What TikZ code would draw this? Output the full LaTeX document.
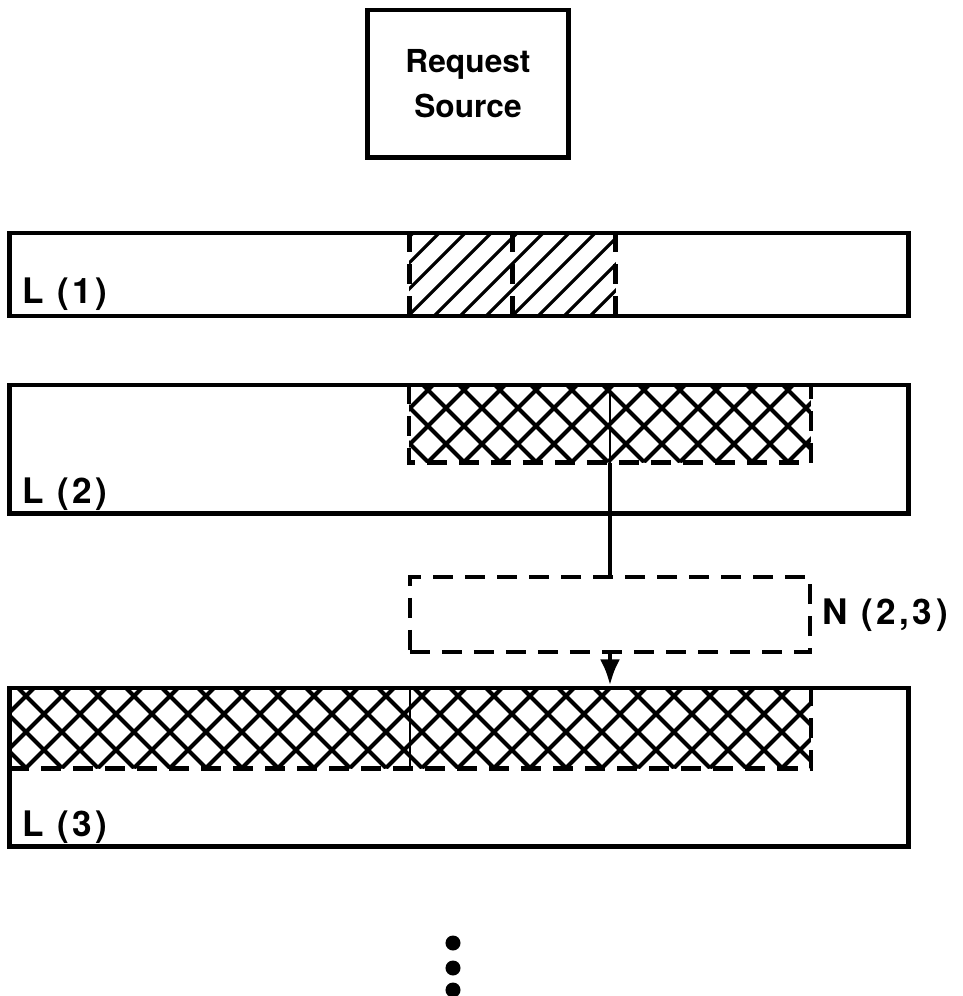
\documentclass[tikz,border=0pt]{standalone}
\usepackage{fontspec}
\setsansfont{TeX Gyre Heros}
\usetikzlibrary{arrows.meta}

\tikzset{
  box/.style={draw, line width=1.4pt, inner sep=0pt},
  level/.style={box, minimum width=8.98cm},
  zone/.style={inner sep=0pt, minimum width=#1},
  tag/.style={inner sep=0pt, font=\sffamily\bfseries\fontsize{10}{12}\selectfont\addfontfeature{LetterSpace=10}},
  hatch/.style={line width=1.2pt},
  gap/.style={line width=1.3pt, dash pattern=on 0.2cm off 0.12cm},
}

\begin{document}
\begin{tikzpicture}[x=0.01cm, y=-0.01cm]
        \useasboundingbox (0,0) rectangle (963,996);

        \node[box, minimum width=2cm, minimum height=1.47cm, align=center,
              font=\sffamily\bfseries\fontsize{9}{13}\selectfont] (src) at (468,83.5) {Request\\Source};

        % levels
        \node[level, minimum height=0.83cm] (L1) at (459,274.5) {};
        \node[level, minimum height=1.28cm] (L2) at (459,449) {};
        \node[level, minimum height=1.58cm] (L3) at (459,767) {};
        \node[box, gap, minimum width=4cm, minimum height=0.75cm] (N) at (610,614.5) {};

        % marked parts
        \node[zone=2.05cm, minimum height=0.83cm] (h1) at (512.5,274.5) {};
        \node[zone=4cm, minimum height=0.77cm] (h2) at (610,423.5) {};
        \node[zone=8cm, minimum height=0.80cm] (h3) at (410,728) {};

        \begin{scope}
            \clip (h1.south west) rectangle (h1.north east);
            \foreach \x in {330,356,...,640} {
                \draw[hatch, line width=0.9pt] (\x,316) -- ++(83,-83);
            }
        \end{scope}
        \begin{scope}
            \clip (h2.south west) rectangle (h2.north east);
            \foreach \x in {320,356,...,900} {
                \draw[hatch] (\x,462) -- ++(77,-77);
                \draw[hatch] (\x,462) -- ++(-77,-77);
            }
        \end{scope}
        \begin{scope}
            \clip (h3.south west) rectangle (h3.north east);
            \foreach \x in {-82,-46,...,900} {
                \draw[hatch] (\x,768) -- ++(80,-80);
                \draw[hatch] (\x,768) -- ++(-80,-80);
            }
        \end{scope}

        \draw[gap] (h1.north west) -- (h1.south west);
        \draw[gap] (h1.north) -- (h1.south);
        \draw[gap] (h1.north east) -- (h1.south east);
        \draw[gap] (h2.north west) -- (h2.south west) -- (h2.south east) -- (h2.north east);
        \draw[line width=0.8pt] (h2.north) -- (h2.south);
        \draw[gap] (h3.south west) -- (h3.south east) -- (h3.north east);
        \draw[line width=0.8pt] (h3.north) -- (h3.south);

        % transfer
        \draw[line width=1.3pt] (h2.south) -- (N.north);
        \draw[line width=1.3pt, -{Latex[length=0.26cm, width=0.2cm]}] (N.south) -- (N.south |- L3.north);

        \node[tag, anchor=base west] (t1) at (22,303) {L (1)};
        \node[tag, anchor=base west] (t2) at (22,503) {L (2)};
        \node[tag, anchor=base west] (t3) at (22,836) {L (3)};
        \node[tag, anchor=base west] (tn) at (822,624) {N (2,3)};

        \foreach \y in {943,968,990} {
            \fill (453,\y) circle (0.75mm);
        }
\end{tikzpicture}
\end{document}
